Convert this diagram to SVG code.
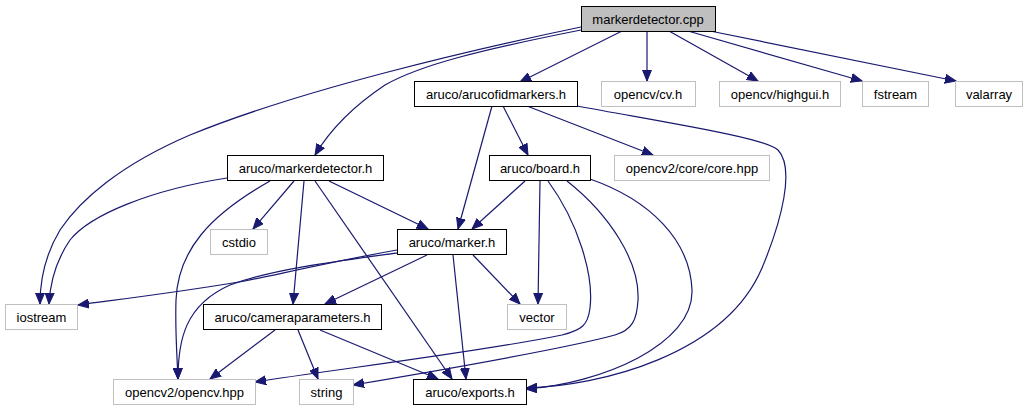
<svg xmlns="http://www.w3.org/2000/svg" width="1027" height="411" viewBox="0 0 1027 411">
<style>
.n rect{fill:#fff;stroke:#000;stroke-width:1}
.g rect{stroke:#bfbfbf}
.r rect{fill:#bfbfbf}
text{font-family:"Liberation Sans",Arial,sans-serif;font-size:13px;fill:#000;text-anchor:middle}
#edges path{fill:none;stroke:#191970;stroke-width:1.2;marker-end:url(#a)}
</style>
<defs>
<marker id="a" markerUnits="userSpaceOnUse" markerWidth="12" markerHeight="10" refX="11" refY="5" orient="auto">
<path d="M0,0.5 L11,5 L0,9.5 z" fill="#191970" stroke="#191970" stroke-width="1"/>
</marker>
</defs>
<rect width="1027" height="411" fill="#fff"/>
<g id="edges">
<path d="M622,31 L520,82"/>
<path d="M647,31 L647,81"/>
<path d="M669,31 L758,81"/>
<path d="M688,31 L862,81"/>
<path d="M710,31 L956,81"/>
<path d="M581,27 C470,50 300,90 190,135 C120,165 80,200 60,230 C45,255 40,280 40,304"/>
<path d="M581,30 C480,50 420,65 385,85 C355,105 330,130 315,155"/>
<path d="M227,178 C150,190 90,215 70,240 C55,262 50,285 49,304"/>
<path d="M294,181 L253,229"/>
<path d="M270,181 C210,215 178,250 176,300 C175,330 177,355 178,379"/>
<path d="M304,181 L293,304"/>
<path d="M315,181 L452,379"/>
<path d="M329,181 L428,229"/>
<path d="M397,250 C330,262 280,274 245,281 C180,292 130,298 78,305"/>
<path d="M397,253 C330,262 270,270 230,285 C185,305 178,340 178,379"/>
<path d="M427,255 L325,304"/>
<path d="M473,255 L520,304"/>
<path d="M453,255 L466,379"/>
<path d="M492,106 L458,229"/>
<path d="M503,106 L528,155"/>
<path d="M527,106 L653,155"/>
<path d="M577,106 C680,125 765,138 778,150 C795,168 782,220 762,268 C725,355 600,386 526,388"/>
<path d="M525,181 L472,229"/>
<path d="M540,181 L538,304"/>
<path d="M548,181 C578,222 594,275 590,308 C588,325 582,330 562,335 C480,352 330,370 255,382"/>
<path d="M567,181 C610,215 640,262 638,300 C637,320 632,330 615,335 C560,350 430,372 353,385"/>
<path d="M590,179 C650,200 690,240 692,290 C694,345 600,384 526,389"/>
<path d="M275,330 L210,379"/>
<path d="M298,330 L318,379"/>
<path d="M320,330 L438,379"/>
</g>
<g id="markerdetector_cpp" class="n r"><rect x="581.5" y="6.5" width="134" height="25"/><text x="648" y="23.5">markerdetector.cpp</text></g>
<g id="arucofidmarkers_h" class="n"><rect x="414.5" y="81.5" width="163" height="25"/><text x="496" y="98.5">aruco/arucofidmarkers.h</text></g>
<g id="cv_h" class="n g"><rect x="601.5" y="81.5" width="94" height="25"/><text x="648" y="98.5">opencv/cv.h</text></g>
<g id="highgui_h" class="n g"><rect x="719.5" y="81.5" width="121" height="25"/><text x="780" y="98.5">opencv/highgui.h</text></g>
<g id="fstream" class="n g"><rect x="862.5" y="81.5" width="66" height="25"/><text x="895.5" y="98.5">fstream</text></g>
<g id="valarray" class="n g"><rect x="955.5" y="81.5" width="67" height="25"/><text x="989" y="98.5">valarray</text></g>
<g id="markerdetector_h" class="n"><rect x="227.5" y="155.5" width="156" height="25"/><text x="305.5" y="172.5">aruco/markerdetector.h</text></g>
<g id="board_h" class="n"><rect x="489.5" y="155.5" width="101" height="25"/><text x="540" y="172.5">aruco/board.h</text></g>
<g id="core_hpp" class="n g"><rect x="614.5" y="155.5" width="155" height="25"/><text x="692" y="172.5">opencv2/core/core.hpp</text></g>
<g id="cstdio" class="n g"><rect x="210.5" y="229.5" width="57" height="25"/><text x="239" y="246.5">cstdio</text></g>
<g id="marker_h" class="n"><rect x="397.5" y="229.5" width="109" height="25"/><text x="452" y="246.5">aruco/marker.h</text></g>
<g id="iostream" class="n g"><rect x="5.5" y="304.5" width="72" height="25"/><text x="41.5" y="321.5">iostream</text></g>
<g id="cameraparameters_h" class="n"><rect x="203.5" y="304.5" width="178" height="25"/><text x="292.5" y="321.5">aruco/cameraparameters.h</text></g>
<g id="vector" class="n g"><rect x="507.5" y="304.5" width="59" height="25"/><text x="537" y="321.5">vector</text></g>
<g id="opencv_hpp" class="n g"><rect x="113.5" y="379.5" width="142" height="25"/><text x="184.5" y="396.5">opencv2/opencv.hpp</text></g>
<g id="string" class="n g"><rect x="299.5" y="379.5" width="54" height="25"/><text x="326.5" y="396.5">string</text></g>
<g id="exports_h" class="n"><rect x="413.5" y="379.5" width="113" height="25"/><text x="470" y="396.5">aruco/exports.h</text></g>
</svg>
